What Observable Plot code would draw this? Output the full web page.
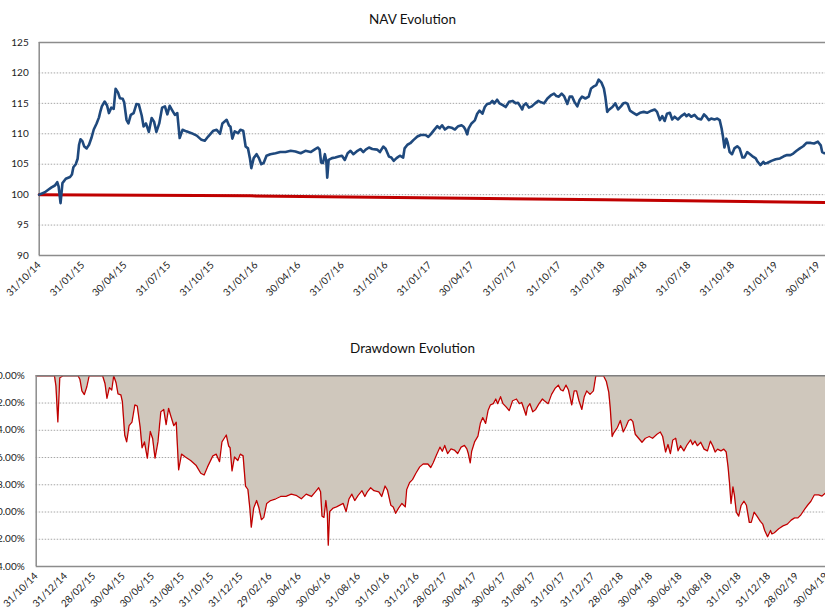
<!DOCTYPE html>
<html><head><meta charset="utf-8">
<script src="https://cdn.jsdelivr.net/npm/d3@7"></script>
<script src="https://cdn.jsdelivr.net/npm/@observablehq/plot@0.6"></script>
<style>
html,body{margin:0;padding:0;background:#fff;overflow:hidden;width:825px;height:612px;}
#root{position:relative;width:825px;height:612px;overflow:hidden;font-family:Lato,"Open Sans",sans-serif;}
.title{position:absolute;left:0;width:825px;text-align:center;font-size:13.5px;line-height:16px;color:#111;}
#top{position:absolute;left:0;top:0;}
#bottom{position:absolute;left:-20px;top:330px;}
</style></head><body>
<div id="root">
<div class="title" style="top:11px">NAV Evolution</div>
<div id="top"></div>
<div class="title" style="top:340px">Drawdown Evolution</div>
<div id="bottom"></div>
</div>
<script>
const navDates = ["2014-10-31","2014-11-12","2014-11-19","2014-11-26","2014-12-03","2014-12-08","2014-12-11","2014-12-15","2014-12-19","2014-12-26","2015-01-04","2015-01-08","2015-01-11","2015-01-16","2015-01-20","2015-01-23","2015-01-26","2015-01-30","2015-02-03","2015-02-08","2015-02-13","2015-02-18","2015-02-23","2015-03-01","2015-03-06","2015-03-09","2015-03-12","2015-03-18","2015-03-23","2015-03-27","2015-04-01","2015-04-06","2015-04-10","2015-04-15","2015-04-19","2015-04-25","2015-04-28","2015-05-03","2015-05-07","2015-05-12","2015-05-18","2015-05-24","2015-05-29","2015-06-04","2015-06-08","2015-06-13","2015-06-19","2015-06-25","2015-06-30","2015-07-05","2015-07-11","2015-07-17","2015-07-23","2015-07-28","2015-08-02","2015-08-07","2015-08-13","2015-08-18","2015-08-23","2015-08-29","2015-09-06","2015-09-17","2015-09-28","2015-10-08","2015-10-15","2015-10-22","2015-11-02","2015-11-09","2015-11-16","2015-11-21","2015-11-30","2015-12-05","2015-12-08","2015-12-12","2015-12-17","2015-12-24","2015-12-29","2016-01-04","2016-01-09","2016-01-14","2016-01-18","2016-01-21","2016-01-26","2016-02-01","2016-02-06","2016-02-11","2016-02-16","2016-02-22","2016-03-01","2016-03-12","2016-03-22","2016-04-02","2016-04-13","2016-04-23","2016-05-04","2016-05-14","2016-05-25","2016-06-02","2016-06-09","2016-06-13","2016-06-16","2016-06-20","2016-06-24","2016-06-27","2016-06-29","2016-07-02","2016-07-09","2016-07-16","2016-07-23","2016-07-30","2016-08-05","2016-08-11","2016-08-17","2016-08-23","2016-08-30","2016-09-07","2016-09-13","2016-09-18","2016-09-25","2016-10-02","2016-10-12","2016-10-18","2016-10-25","2016-10-30","2016-11-06","2016-11-11","2016-11-16","2016-11-22","2016-11-29","2016-12-06","2016-12-09","2016-12-15","2016-12-21","2016-12-28","2017-01-05","2017-01-12","2017-01-22","2017-01-28","2017-02-02","2017-02-09","2017-02-16","2017-02-21","2017-02-26","2017-03-04","2017-03-11","2017-03-18","2017-03-25","2017-04-01","2017-04-08","2017-04-13","2017-04-16","2017-04-20","2017-04-23","2017-04-29","2017-05-06","2017-05-11","2017-05-16","2017-05-22","2017-05-27","2017-06-01","2017-06-07","2017-06-12","2017-06-16","2017-06-22","2017-06-27","2017-07-04","2017-07-10","2017-07-17","2017-07-25","2017-07-31","2017-08-05","2017-08-10","2017-08-14","2017-08-17","2017-08-22","2017-08-28","2017-09-03","2017-09-10","2017-09-17","2017-09-21","2017-09-29","2017-10-06","2017-10-13","2017-10-20","2017-10-25","2017-10-30","2017-11-05","2017-11-10","2017-11-17","2017-11-22","2017-11-27","2017-12-02","2017-12-08","2017-12-13","2017-12-18","2017-12-25","2018-01-01","2018-01-06","2018-01-12","2018-01-17","2018-01-22","2018-01-28","2018-02-02","2018-02-05","2018-02-09","2018-02-12","2018-02-20","2018-02-26","2018-03-04","2018-03-10","2018-03-15","2018-03-20","2018-03-24","2018-03-29","2018-04-05","2018-04-12","2018-04-19","2018-04-27","2018-05-04","2018-05-13","2018-05-20","2018-05-25","2018-05-31","2018-06-05","2018-06-10","2018-06-15","2018-06-21","2018-06-26","2018-07-01","2018-07-08","2018-07-15","2018-07-22","2018-07-26","2018-07-31","2018-08-05","2018-08-12","2018-08-19","2018-08-26","2018-09-01","2018-09-06","2018-09-11","2018-09-16","2018-09-23","2018-09-29","2018-10-04","2018-10-08","2018-10-11","2018-10-14","2018-10-18","2018-10-21","2018-10-25","2018-10-30","2018-11-04","2018-11-10","2018-11-15","2018-11-21","2018-11-25","2018-12-01","2018-12-07","2018-12-14","2018-12-19","2018-12-23","2018-12-29","2019-01-04","2019-01-07","2019-01-12","2019-01-21","2019-01-30","2019-02-08","2019-02-16","2019-02-23","2019-03-02","2019-03-08","2019-03-15","2019-03-22","2019-03-29","2019-04-05","2019-04-14","2019-04-21","2019-04-29","2019-05-05","2019-05-08","2019-05-13"];
const navValues = [100.0,100.4,100.8,101.2,101.5,102.05,101.3,98.6,101.9,102.6,102.9,103.3,104.5,105.0,105.9,108.2,109.1,108.8,107.9,107.6,108.2,109.3,110.7,111.7,112.7,113.7,114.5,115.3,114.65,113.4,114.3,114.1,117.4,116.8,115.85,115.75,115.2,112.3,111.7,113.1,113.4,114.9,114.8,113.0,111.2,111.7,110.3,112.6,112.0,110.3,111.7,114.3,114.5,113.2,114.6,113.9,113.1,113.4,109.3,110.65,110.4,110.1,109.7,109.0,108.85,109.55,110.5,110.65,110.0,111.7,112.3,111.35,111.2,109.2,110.4,110.1,110.65,110.5,107.9,107.6,106.0,104.35,106.0,106.65,106.0,105.0,105.2,106.4,106.65,106.8,107.0,107.0,107.2,107.1,106.8,107.2,107.0,107.4,107.75,107.4,105.3,105.2,106.65,105.55,102.8,105.7,106.0,106.1,106.25,106.4,105.7,106.8,107.2,106.65,107.1,107.5,107.0,107.4,107.75,107.5,107.4,107.0,107.9,107.55,106.25,106.1,105.55,106.0,106.4,106.1,107.6,108.2,108.45,109.0,109.55,109.8,109.8,109.5,109.9,110.6,111.25,110.9,111.4,110.7,111.1,111.0,110.7,111.25,111.4,111.1,110.7,109.9,110.9,111.7,112.2,113.3,113.8,113.3,114.4,114.9,115.0,115.4,115.0,115.6,115.0,114.7,114.4,115.25,115.4,115.0,115.1,114.5,114.0,114.7,115.0,114.3,114.5,115.0,115.4,115.25,115.0,115.8,116.3,116.6,116.2,116.1,116.6,116.2,114.9,116.1,116.1,115.25,114.5,115.6,116.1,115.8,116.1,117.45,117.8,118.0,118.9,118.4,117.45,116.1,113.6,113.9,114.4,115.0,114.0,114.5,115.0,115.1,114.9,113.8,113.45,113.1,113.45,113.6,113.45,113.8,114.0,113.6,112.25,112.9,112.1,113.3,113.45,112.35,112.8,112.35,112.9,113.3,112.9,113.2,112.8,113.1,112.5,112.35,113.2,112.8,112.25,112.5,112.35,112.5,112.25,110.9,109.5,107.75,109.2,108.5,107.0,106.65,107.6,107.95,107.6,106.1,106.1,107.0,106.65,106.2,105.95,105.4,104.85,105.4,105.1,105.2,105.55,105.8,105.95,106.3,106.5,106.5,106.75,107.2,107.6,107.95,108.5,108.5,108.4,108.7,108.1,107.0,106.8];

const benchDates = ["2014-10-31","2016-01-20","2017-01-11","2018-02-05","2019-05-13"];
const benchValues = [100.0,99.8,99.5,99.15,98.7];

const navYTicks = [90,95,100,105,110,115,120,125];
const navGridLines = [95,100,105,110,115,120];
const navXTicks = ["2014-10-31","2015-01-31","2015-04-30","2015-07-31","2015-10-31","2016-01-31","2016-04-30","2016-07-31","2016-10-31","2017-01-31","2017-04-30","2017-07-31","2017-10-31","2018-01-31","2018-04-30","2018-07-31","2018-10-31","2019-01-31","2019-04-30"];

const ddYTicks = [0,-0.02,-0.04,-0.06,-0.08,-0.10,-0.12,-0.14];
const ddGridLines = [-0.02,-0.04,-0.06,-0.08,-0.10,-0.12];
const ddXTicks = ["2014-10-31","2014-12-31","2015-02-28","2015-04-30","2015-06-30","2015-08-31","2015-10-31","2015-12-31","2016-02-29","2016-04-30","2016-06-30","2016-08-31","2016-10-31","2016-12-31","2017-02-28","2017-04-30","2017-06-30","2017-08-31","2017-10-31","2017-12-31","2018-02-28","2018-04-30","2018-06-30","2018-08-31","2018-10-31","2018-12-31","2019-02-28","2019-04-30"];

const parse = d3.utcParse("%Y-%m-%d");
const fmt = d3.utcFormat("%d/%m/%y");
const nav = navDates.map((d, i) => ({date: parse(d), value: navValues[i]}));
const bench = benchDates.map((d, i) => ({date: parse(d), value: benchValues[i]}));
let peak = -Infinity;
const dd = nav.map(d => { peak = Math.max(peak, d.value); return {date: d.date, dd: d.value / peak - 1}; });
const xStart = parse("2014-10-31"), xEnd = parse("2019-05-15");
const axisGray = "#8c8c8c", gridGray = "#a6a6a6";
const font = "Lato, 'Open Sans', sans-serif";

const topChart = Plot.plot({
  width: 825, height: 320,
  marginLeft: 38.7, marginRight: 0, marginTop: 42, marginBottom: 65,
  style: {fontFamily: font, fontSize: "10px", color: "#222", maxWidth: "none", background: "transparent"},
  x: {type: "utc", domain: [xStart, xEnd]},
  y: {domain: [90, 125]},
  marks: [
    Plot.ruleY(navGridLines, {stroke: gridGray, strokeDasharray: "1.5,1.5", strokeWidth: 1}),
    Plot.ruleY([125], {stroke: axisGray, strokeWidth: 1.3}),
    Plot.ruleY([90], {stroke: axisGray, strokeWidth: 1.5}),
    Plot.ruleX([xStart], {stroke: axisGray, strokeWidth: 1.5}),
    Plot.axisY({ticks: navYTicks, tickSize: 0, tickPadding: 10.5, label: null}),
    Plot.axisX({ticks: navXTicks.map(parse), tickFormat: fmt, tickRotate: -45, tickSize: 0, tickPadding: 8, label: null}),
    Plot.line(bench, {x: "date", y: "value", stroke: "#c00000", strokeWidth: 3}),
    Plot.line(nav, {x: "date", y: "value", stroke: "#1f497d", strokeWidth: 2.6, strokeLinejoin: "round"})
  ]
});
document.getElementById("top").appendChild(topChart);

const pct = d => (d < 0 ? "-" : "") + Math.abs(d * 100).toFixed(2) + "%";
const bottomChart = Plot.plot({
  width: 853, height: 296,
  marginLeft: 55.7, marginRight: 0, marginTop: 45.3, marginBottom: 60,
  style: {fontFamily: font, fontSize: "10px", color: "#222", maxWidth: "none", background: "transparent"},
  x: {type: "utc", domain: [xStart, xEnd]},
  y: {domain: [-0.14, 0]},
  marks: [
    Plot.ruleY(ddGridLines, {stroke: gridGray, strokeDasharray: "1.5,1.5", strokeWidth: 1}),
    Plot.areaY(dd, {x: "date", y1: "dd", y2: 0, fill: "#cfc7bc"}),
    Plot.line(dd, {x: "date", y: "dd", stroke: "#c00000", strokeWidth: 1.3}),
    Plot.ruleY([0], {stroke: "#7f7f7f", strokeWidth: 1.6}),
    Plot.ruleY([-0.14], {stroke: axisGray, strokeWidth: 1.5}),
    Plot.ruleX([xStart], {stroke: axisGray, strokeWidth: 1.5}),
    Plot.axisY({ticks: ddYTicks, tickFormat: pct, tickSize: 0, tickPadding: 11.5, label: null}),
    Plot.axisX({ticks: ddXTicks.map(parse), tickFormat: fmt, tickRotate: -45, tickSize: 0, tickPadding: 8, label: null})
  ]
});
document.getElementById("bottom").appendChild(bottomChart);
</script>
</body></html>
